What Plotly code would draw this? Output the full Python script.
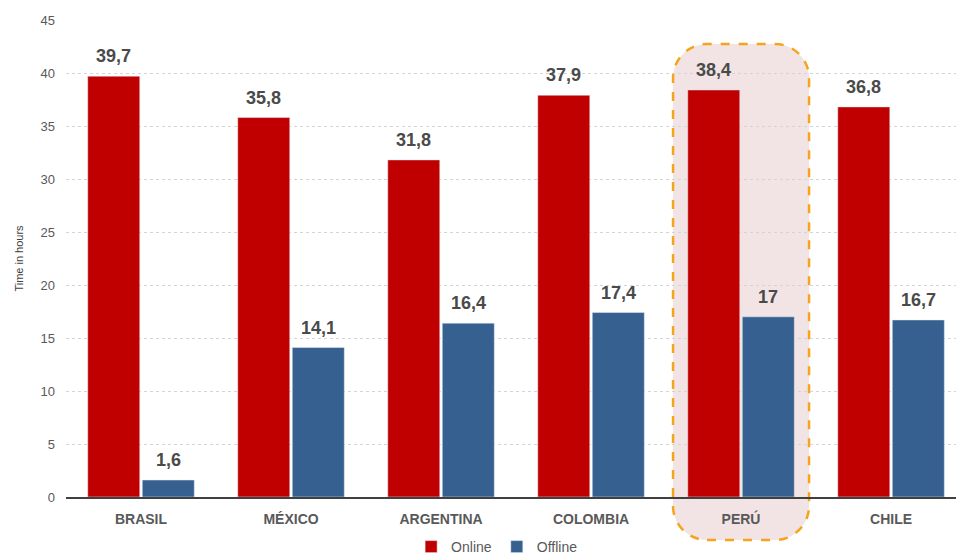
import plotly.graph_objects as go

countries = ["BRASIL", "MÉXICO", "ARGENTINA", "COLOMBIA", "PERÚ", "CHILE"]
online = [39.7, 35.8, 31.8, 37.9, 38.4, 36.8]
offline = [1.6, 14.1, 16.4, 17.4, 17.0, 16.7]
y_ticks = [0, 5, 10, 15, 20, 25, 30, 35, 40, 45]
highlight = "PERÚ"

def fmt(v):
    s = f"{v:.1f}".replace(".", ",")
    return s[:-2] if s.endswith(",0") else s

FONT = "Liberation Sans, Arial, sans-serif"
xs = list(range(len(countries)))
BARGAP, GROUPGAP = 0.273, 0.046

fig = go.Figure()
fig.add_trace(go.Bar(x=xs, y=online, name="Online", marker_color="#c00000"))
fig.add_trace(go.Bar(x=xs, y=offline, name="Offline", marker_color="#35608f"))

# value labels above bars
slot = (1 - BARGAP) / 2
for series, off in ((online, -slot / 2), (offline, slot / 2)):
    for xi, v in zip(xs, series):
        fig.add_annotation(x=xi + off, y=v, text=f"<b>{fmt(v)}</b>", showarrow=False,
                           yanchor="bottom", yshift=8,
                           font=dict(size=18, color="#4a4a4a", family=FONT))

xr = [-0.5, 5.433]
ml, mr, mt, mb = 66, 0, 20, 57
W, H = 956, 554
hx = countries.index(highlight)
xanchor_paper = (hx - xr[0]) / (xr[1] - xr[0])

x0, x1, yb, yt, r = -68, 68, -43, 453, 34
k = 0.552 * r
path = (f"M {x0+r},{yb} L {x1-r},{yb} C {x1-r+k},{yb} {x1},{yb+r-k} {x1},{yb+r} "
        f"L {x1},{yt-r} C {x1},{yt-r+k} {x1-r+k},{yt} {x1-r},{yt} "
        f"L {x0+r},{yt} C {x0+r-k},{yt} {x0},{yt-r+k} {x0},{yt-r} "
        f"L {x0},{yb+r} C {x0},{yb+r-k} {x0+r-k},{yb} {x0+r},{yb} Z")
fig.add_shape(type="path", xref="paper", yref="paper", xsizemode="pixel", ysizemode="pixel",
              xanchor=xanchor_paper, yanchor=0, path=path, layer="below",
              fillcolor="#f2e4e4", line=dict(color="#f5a51d", width=2.5, dash="dash"))

fig.update_layout(
    width=W, height=H,
    margin=dict(l=ml, r=mr, t=mt, b=mb, autoexpand=False),
    plot_bgcolor="white", paper_bgcolor="white",
    barmode="group", bargap=BARGAP, bargroupgap=GROUPGAP,
    font=dict(family=FONT, color="#595959"),
    showlegend=True,
    legend=dict(orientation="h", xref="container", yref="container", x=0.52, xanchor="center",
                y=(554 - 547) / 554, yanchor="middle", font=dict(size=14, color="#595959"),
                itemwidth=30, traceorder="normal", tracegroupgap=0),
    xaxis=dict(range=xr, tickmode="array", tickvals=xs, ticktext=countries,
               tickfont=dict(size=14, color="#595959", weight="bold"),
               showline=True, linecolor="#404040", linewidth=2, showgrid=False,
               ticks="", ticklabelstandoff=8),
    yaxis=dict(range=[0, 45], tickvals=y_ticks, showgrid=True, gridcolor="#d4d4d4",
               griddash="dot", gridwidth=1, zeroline=False,
               tickfont=dict(size=13, color="#595959"), ticklabelstandoff=10,
               title=dict(text="Time in hours", font=dict(size=11, color="#404040"), standoff=14)),
)

fig.write_html("out.html")
